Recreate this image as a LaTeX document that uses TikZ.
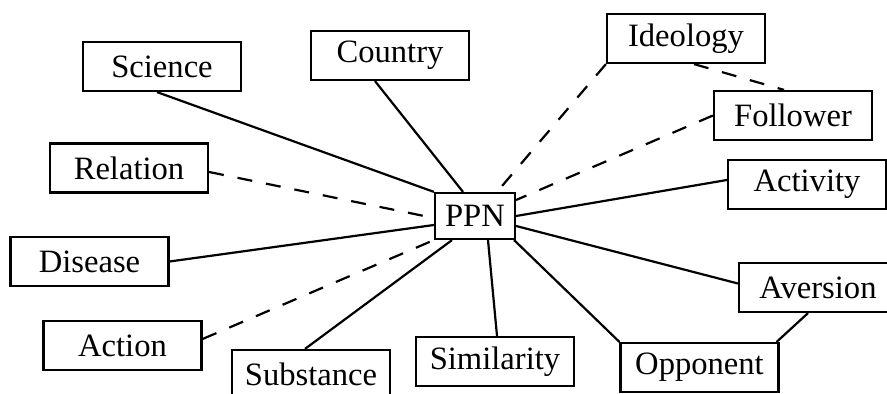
\documentclass[tikz,border=0pt]{standalone}
\usepackage{fontspec}
\setmainfont{Liberation Serif}
\usetikzlibrary{calc}
\begin{document}
\begin{tikzpicture}[x=0.5pt,y=-0.5pt,
  box/.style={draw,line width=1.1pt,minimum width=79pt,minimum height=24.5pt,inner sep=0pt,font=\fontsize{16.3}{19}\selectfont},
  cbox/.style={draw,line width=1.1pt,minimum width=40pt,minimum height=23pt,inner sep=0pt,font=\fontsize{16.3}{19}\selectfont},
  solidedge/.style={line width=1.1pt},
  dashedge/.style={line width=1.1pt,dash pattern=on 7.5pt off 7pt}]
\useasboundingbox (0,0) rectangle (887,394);
\clip (0,0) rectangle (887,394);
\node[cbox] (PPN) at (475,216) {PPN};
\node[box] (Science) at (162,66.5) {Science};
\node[box] (Country) at (390,55.5) {Country};
\node[box] (Relation) at (129,168) {Relation};
\node[box] (Ideology) at (686,38.5) {Ideology};
\node[box] (Follower) at (793,115.5) {Follower};
\node[box] (Activity) at (807,184.5) {Activity};
\node[box] (Disease) at (89.5,261.5) {Disease};
\node[box] (Action) at (122.5,345.5) {Action};
\node[box] (Substance) at (311,374.5) {Substance};
\node[box] (Similarity) at (495,361.5) {Similarity};
\node[box] (Opponent) at (699.5,367.5) {Opponent};
\node[box] (Aversion) at (818,287.5) {Aversion};
\draw[solidedge] ([xshift=-2.5pt]Science.south) -- (PPN.north west);
\draw[solidedge] ([xshift=-7.5pt]Country.south) -- ([xshift=-6pt]PPN.north);
\draw[dashedge] ([yshift=-2pt]Relation.east) -- ([yshift=-1pt]PPN.west);
\draw[dashedge] (Ideology.south west) -- ([xshift=11pt]PPN.north);
\draw[dashedge] ([xshift=4pt]Ideology.south) -- ([xshift=-4.5pt]Follower.north);
\draw[dashedge] (Follower.west) -- ([yshift=8pt]PPN.east);
\draw[solidedge] ([yshift=2.25pt]Activity.west) -- (PPN.east);
\draw[solidedge] (Disease.east) -- ([yshift=-4.5pt]PPN.west);
\draw[dashedge] ([yshift=3.25pt]Action.east) -- (PPN.south west);
\draw[solidedge] ([xshift=-3pt]Substance.north) -- ([xshift=-11.5pt]PPN.south);
\draw[solidedge] ([xshift=1pt]Similarity.north) -- ([xshift=6.5pt]PPN.south);
\draw[solidedge] (Opponent.north west) -- ([xshift=-1pt]PPN.south east);
\draw[solidedge] ([yshift=2pt]Aversion.west) -- ([yshift=-5pt]PPN.east);
\draw[solidedge] ([xshift=-5pt]Aversion.south) -- ([xshift=-1.5pt]Opponent.north east);
\end{tikzpicture}
\end{document}
